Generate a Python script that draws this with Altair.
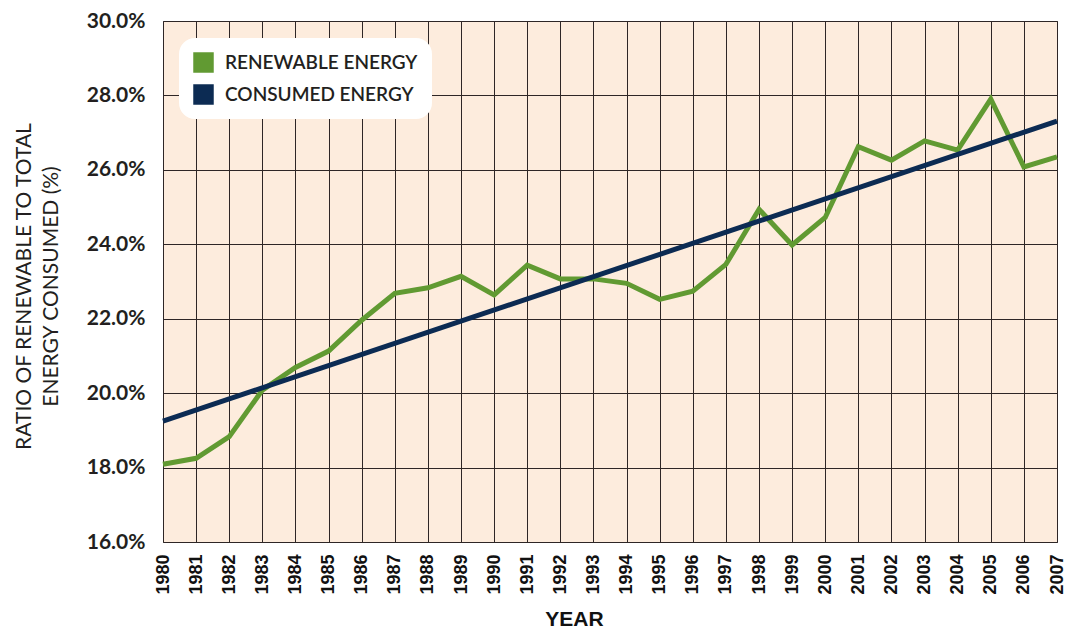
import altair as alt
import pandas as pd

years = list(range(1980, 2008))
renewable = [18.09, 18.25, 18.83, 20.08, 20.69, 21.13, 21.96, 22.68, 22.83, 23.14,
             22.64, 23.44, 23.07, 23.07, 22.95, 22.52, 22.74, 23.46, 24.94, 23.98,
             24.72, 26.62, 26.26, 26.78, 26.53, 27.90, 26.08, 26.35]
consumed_years = [1980, 2007]
consumed = [19.25, 27.31]
series_names = ["RENEWABLE ENERGY", "CONSUMED ENERGY"]
series_colors = ["#619a32", "#0c2b53"]
y_ticks = [16, 18, 20, 22, 24, 26, 28, 30]

df = pd.concat([
    pd.DataFrame({"year": years, "value": renewable, "series": series_names[0]}),
    pd.DataFrame({"year": consumed_years, "value": consumed, "series": series_names[1]}),
])

x_enc = alt.X("year:Q",
              scale=alt.Scale(domain=[1980, 2007], nice=False, zero=False),
              axis=alt.Axis(values=years, format="d", labelAngle=270, labelAlign="right",
                            labelBaseline="middle", labelPadding=12, ticks=False, domain=False,
                            labelFont="Liberation Sans", labelFontWeight="bold", labelFontSize=18,
                            labelColor="#111111", labelOverlap=False,
                            title="YEAR", titleFont="Liberation Sans", titleFontWeight="bold",
                            titleFontSize=21, titleColor="#111111", titleX=411, titleY=83,
                            titleBaseline="alphabetic", titleAlign="center",
                            grid=True, gridColor="#2e2626", gridWidth=1, gridOpacity=1))
y_enc = alt.Y("value:Q",
              scale=alt.Scale(domain=[16, 30], nice=False, zero=False),
              axis=alt.Axis(values=y_ticks, labelExpr="format(datum.value, '.1f') + '%'",
                            ticks=False, domain=False, labelPadding=18,
                            labelFont="Lato", labelFontWeight="bold", labelFontSize=21,
                            labelColor="#231f20",
                            title=["RATIO OF RENEWABLE TO TOTAL", "ENERGY CONSUMED (%)"],
                            titleFont="Lato", titleFontWeight="normal", titleFontSize=21,
                            titleColor="#231f20", titleAngle=270, titleX=-150, titleY=265,
                            titleAlign="center", titleBaseline="top", titleLineHeight=27,
                            grid=True, gridColor="#2e2626", gridWidth=1, gridOpacity=1))
color_scale = alt.Scale(domain=series_names, range=series_colors)

lines = alt.Chart(df).mark_line(strokeWidth=5, strokeJoin="miter").encode(
    x=x_enc, y=y_enc,
    color=alt.Color("series:N", scale=color_scale, legend=None),
)

legend_marks = alt.Chart(df).mark_square(size=0, filled=True, opacity=1).encode(
    x=x_enc, y=y_enc,
    color=alt.Color("series:N", scale=color_scale, sort=series_names,
                    legend=alt.Legend(title=None, orient="none", legendX=16, legendY=17,
                                      fillColor="white", cornerRadius=16, padding=14,
                                      symbolType="square", symbolSize=420,
                                      symbolStrokeWidth=0, symbolOpacity=1, rowPadding=11,
                                      labelFont="Lato", labelFontWeight=600,
                                      labelFontSize=19, labelColor="#231f20",
                                      labelOffset=11, labelLimit=400)),
)

chart = alt.layer(lines, legend_marks).resolve_legend(color="independent").properties(
    width=894, height=521,
    background="white",
    autosize=alt.AutoSizeParams(type="none"),
    padding={"left": 155, "top": 13, "right": 8, "bottom": 89},
).configure_view(
    fill="#fdecdd", stroke="#4a4040", strokeWidth=1
)

chart.save("out.html", embed_options={"renderer": "svg", "actions": False})
